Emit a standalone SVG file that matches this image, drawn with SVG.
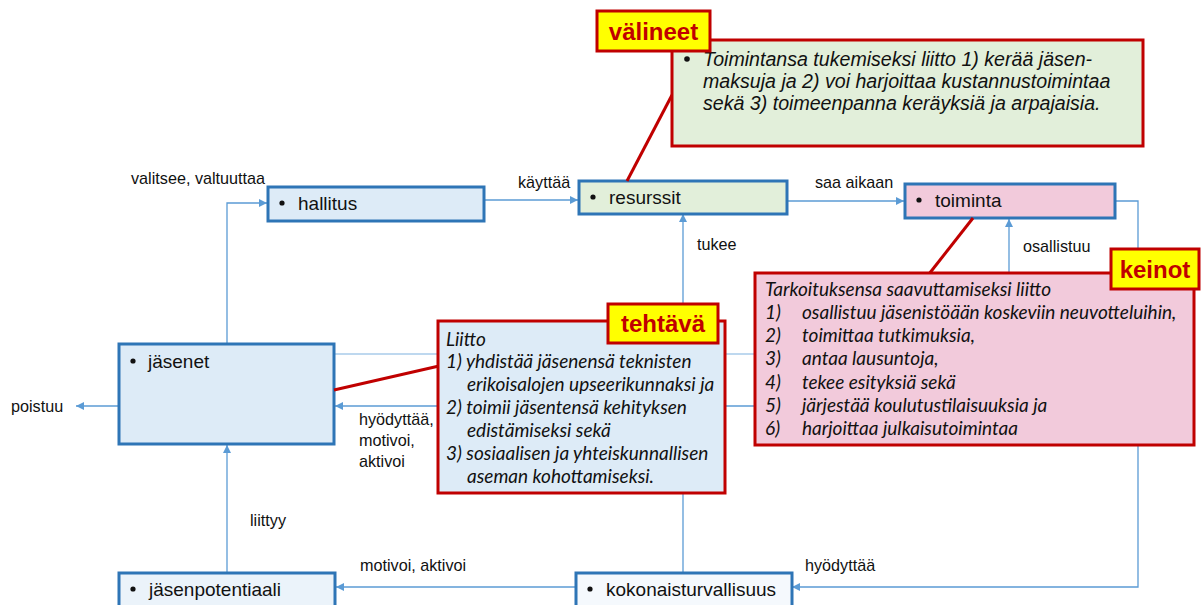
<svg xmlns="http://www.w3.org/2000/svg" width="1201" height="605" viewBox="0 0 1201 605">
  <style>
    .node { stroke: #2E75B6; stroke-width: 3; }
    .blue { fill: #DDEBF7; }
    .green { fill: #E2EFDA; }
    .pink { fill: #F2CADB; }
    .pale { fill: #EBF3FA; }
    .white { fill: #F5F9FD; }
    .ntext { font-family: "Liberation Sans", Arial, sans-serif; font-size: 19px; fill: #111; }
    .lbl { font-family: "Liberation Sans", Arial, sans-serif; font-size: 16.2px; fill: #111; }
    .conn { fill: none; stroke: #5B9BD5; stroke-width: 1.3; }
    .conn-light { fill: none; stroke: #A9CBEA; stroke-width: 1.3; }
    .callout { stroke: #C00000; stroke-width: 3; }
    .tag { fill: #FFFF00; stroke: #C00000; stroke-width: 3; }
    .tagtext { font-family: "Liberation Sans", Arial, sans-serif; font-size: 24px; font-weight: bold; fill: #C00000; }
    .itx { font-family: "Liberation Sans", Arial, sans-serif; font-size: 19.6px; font-style: italic; fill: #111; }
    .ctx { font-family: Lato, "Open Sans", sans-serif; font-size: 19px; font-style: italic; fill: #111; }
    .ctx2 { font-family: Lato, "Open Sans", sans-serif; font-size: 19px; font-style: italic; fill: #111; }
    .redline { stroke: #C00000; stroke-width: 3; fill: none; }
  </style>
  <defs>
    <marker id="arrow" markerUnits="userSpaceOnUse" markerWidth="9" markerHeight="9" refX="8" refY="4" orient="auto">
      <path d="M0,0 L8,4 L0,8 z" fill="#5B9BD5"/>
    </marker>
  </defs>

  <rect width="1201" height="605" fill="#FFFFFF"/>

  <!-- connectors -->
  <g id="connectors">
    <path class="conn" d="M227,344 V203 H267" marker-end="url(#arrow)"/>
    <path class="conn" d="M485,200 H578" marker-end="url(#arrow)"/>
    <path class="conn" d="M787,201 H904" marker-end="url(#arrow)"/>
    <path class="conn" d="M683,573 V214" marker-end="url(#arrow)"/>
    <path class="conn-light" d="M334,354 H1009 V273"/>
    <path class="conn" d="M1009,273 V219" marker-end="url(#arrow)"/>
    <path class="conn" d="M1138,406 H335" marker-end="url(#arrow)"/>
    <path class="conn" d="M1115,201 H1138 V587 H792" marker-end="url(#arrow)"/>
    <path class="conn" d="M576,587 H336" marker-end="url(#arrow)"/>
    <path class="conn" d="M227,572 V445" marker-end="url(#arrow)"/>
    <path class="conn" d="M119,406 H76" marker-end="url(#arrow)"/>

    <text class="lbl" x="131" y="184">valitsee, valtuuttaa</text>
    <text class="lbl" x="518" y="188">käyttää</text>
    <text class="lbl" x="815" y="188">saa aikaan</text>
    <text class="lbl" x="697" y="250">tukee</text>
    <text class="lbl" x="1023" y="252">osallistuu</text>
    <text class="lbl" x="11" y="412">poistuu</text>
    <text class="lbl" x="359" y="425">hyödyttää,</text>
    <text class="lbl" x="359" y="446">motivoi,</text>
    <text class="lbl" x="359" y="467">aktivoi</text>
    <text class="lbl" x="250" y="526">liittyy</text>
    <text class="lbl" x="360" y="571">motivoi, aktivoi</text>
    <text class="lbl" x="805" y="571">hyödyttää</text>
  </g>

  <!-- nodes -->
  <g id="hallitus">
    <rect class="node blue" x="268" y="187" width="216" height="34"/>
    <circle cx="282" cy="203" r="2.6" fill="#111"/>
    <text class="ntext" x="298" y="210">hallitus</text>
  </g>
  <g id="resurssit">
    <rect class="node green" x="579" y="181" width="208" height="33"/>
    <circle cx="593" cy="197" r="2.6" fill="#111"/>
    <text class="ntext" x="609" y="204">resurssit</text>
  </g>
  <g id="toiminta">
    <rect class="node pink" x="905" y="184" width="210" height="34"/>
    <circle cx="919" cy="200" r="2.6" fill="#111"/>
    <text class="ntext" x="935" y="207">toiminta</text>
  </g>
  <g id="jasenet">
    <rect class="node blue" x="119" y="344" width="215" height="100"/>
    <circle cx="133" cy="361" r="2.6" fill="#111"/>
    <text class="ntext" x="148" y="368">jäsenet</text>
  </g>
  <g id="jasenpotentiaali">
    <rect class="node pale" x="119" y="573" width="216" height="40"/>
    <circle cx="133" cy="589" r="2.6" fill="#111"/>
    <text class="ntext" x="149" y="596">jäsenpotentiaali</text>
  </g>
  <g id="kokonaisturvallisuus">
    <rect class="node white" x="576" y="573" width="216" height="40"/>
    <circle cx="590" cy="589" r="2.6" fill="#111"/>
    <text class="ntext" x="606" y="596">kokonaisturvallisuus</text>
  </g>

  <!-- callout: välineet -->
  <g id="valineet">
    <line class="redline" x1="672" y1="95" x2="627" y2="181"/>
    <rect class="callout green" x="672" y="40" width="471" height="106"/>
    <circle cx="687" cy="59" r="2.8" fill="#111"/>
    <text class="itx" x="703" y="66">Toimintansa tukemiseksi liitto 1) kerää jäsen-</text>
    <text class="itx" x="703" y="88">maksuja ja 2) voi harjoittaa kustannustoimintaa</text>
    <text class="itx" x="703" y="110">sekä 3) toimeenpanna keräyksiä ja arpajaisia.</text>
    <rect class="tag" x="597" y="11" width="113" height="40"/>
    <text class="tagtext" x="653.5" y="40" text-anchor="middle">välineet</text>
  </g>

  <!-- callout: keinot -->
  <g id="keinot">
    <line class="redline" x1="973" y1="218" x2="929" y2="274"/>
    <rect class="callout pink" x="755" y="273" width="439" height="172"/>
    <text class="ctx" x="765" y="296">Tarkoituksensa saavuttamiseksi liitto</text>
    <text class="ctx" x="765" y="319">1)</text>
    <text class="ctx" x="802" y="319">osallistuu jäsenistöään koskeviin neuvotteluihin,</text>
    <text class="ctx" x="765" y="342">2)</text>
    <text class="ctx" x="802" y="342">toimittaa tutkimuksia,</text>
    <text class="ctx" x="765" y="365">3)</text>
    <text class="ctx" x="802" y="365">antaa lausuntoja,</text>
    <text class="ctx" x="765" y="389">4)</text>
    <text class="ctx" x="802" y="389">tekee esityksiä sekä</text>
    <text class="ctx" x="765" y="412">5)</text>
    <text class="ctx" x="802" y="412">järjestää koulutustilaisuuksia ja</text>
    <text class="ctx" x="765" y="435">6)</text>
    <text class="ctx" x="802" y="435">harjoittaa julkaisutoimintaa</text>
    <rect class="tag" x="1111" y="249" width="88" height="40"/>
    <text class="tagtext" x="1155" y="278" text-anchor="middle">keinot</text>
  </g>

  <!-- callout: tehtävä -->
  <g id="tehtava">
    <line class="redline" x1="334" y1="390" x2="439" y2="366"/>
    <rect class="callout blue" x="438" y="321" width="287" height="172"/>
    <text class="ctx2" x="446" y="346">Liitto</text>
    <text class="ctx2" x="446" y="368">1) yhdistää jäsenensä teknisten</text>
    <text class="ctx2" x="467" y="391">erikoisalojen upseerikunnaksi ja</text>
    <text class="ctx2" x="446" y="414">2) toimii jäsentensä kehityksen</text>
    <text class="ctx2" x="467" y="437">edistämiseksi sekä</text>
    <text class="ctx2" x="446" y="460">3) sosiaalisen ja yhteiskunnallisen</text>
    <text class="ctx2" x="467" y="483">aseman kohottamiseksi.</text>
    <rect class="tag" x="608" y="304" width="110" height="39"/>
    <text class="tagtext" x="663" y="332" text-anchor="middle">tehtävä</text>
  </g>
</svg>
